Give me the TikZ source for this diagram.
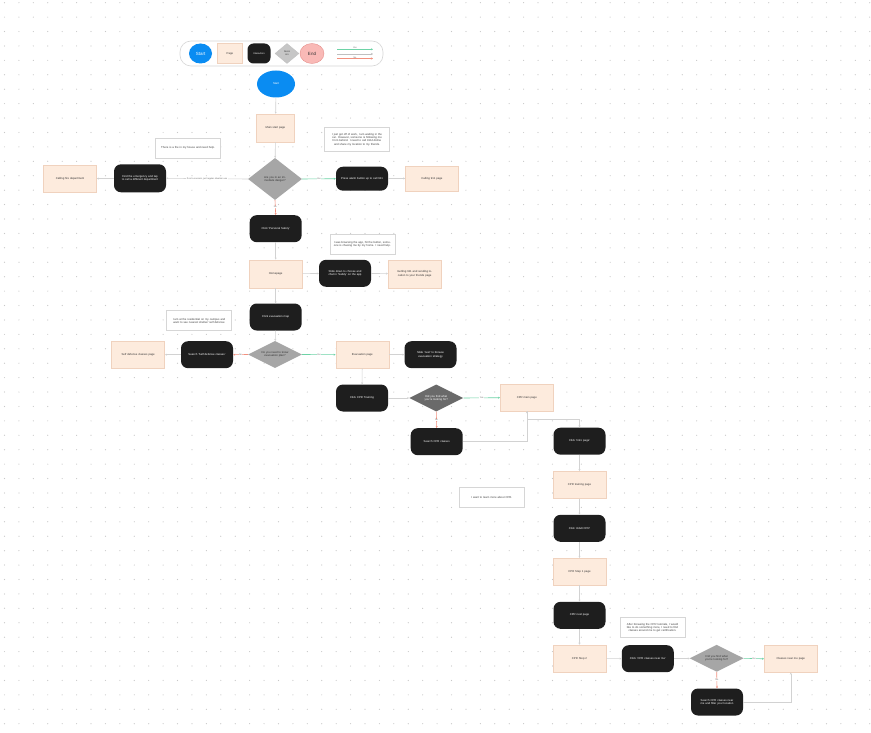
\documentclass[tikz,border=0pt]{standalone}
\usepackage{fontspec}
\setmainfont{Liberation Sans}
\usetikzlibrary{shapes.geometric,arrows.meta}
\definecolor{pagef}{HTML}{FDEBDD}
\definecolor{pageb}{HTML}{F0D2BE}
\definecolor{blk}{HTML}{1E1E1E}
\definecolor{dgray}{HTML}{A6A6A6}
\definecolor{dkgray}{HTML}{6A6A6A}
\definecolor{lgray}{HTML}{C6C6C6}
\definecolor{lnc}{HTML}{D2D2D2}
\definecolor{gln}{HTML}{6DD3A6}
\definecolor{rln}{HTML}{F2907E}
\definecolor{dotc}{HTML}{C8C8C8}
\definecolor{startc}{HTML}{0A8CF2}
\definecolor{endc}{HTML}{F9B9B6}
\definecolor{endb}{HTML}{E58E8A}
\definecolor{noteb}{HTML}{D6D6D6}
\begin{document}
\begin{tikzpicture}[x=1pt,y=-1pt,
 every node/.style={font=\fontsize{2.8}{3.4}\selectfont, align=center, inner sep=1pt},
 pagebox/.style={draw=pageb, fill=pagef, line width=0.5pt, minimum width=53pt, minimum height=27pt, text width=44pt, text=black!80},
 actbox/.style={fill=blk, rounded corners=7pt, minimum width=52pt, minimum height=27pt, text width=44pt, text=white},
 notebox/.style={draw=noteb, fill=white, line width=0.5pt, minimum width=65pt, minimum height=20pt, text width=58pt, text=black!75},
 decbox/.style={diamond, fill=dgray, minimum width=54pt, minimum height=27pt, text width=30pt, inner sep=0pt, shape aspect=2, text=black!80},
 conn/.style={draw=lnc, line width=0.6pt, -{Stealth[length=2pt,width=2pt]}},
 yesc/.style={conn, draw=gln},
 noc/.style={conn, draw=rln},
 elab/.style={font=\fontsize{2.2}{2.6}\selectfont, text=black!60, fill=white, inner sep=0.5pt},
]
\useasboundingbox (0,0) rectangle (871,733);
\fill[white] (0,0) rectangle (871,733);
\foreach \i in {0,...,60} {\foreach \j in {0,...,51} {\fill[dotc] ({4.5+14.42*\i},{2.7+14.42*\j}) circle (0.6pt);}}

% legend
\node[draw=noteb, line width=0.6pt, fill=white, rounded corners=11pt, minimum width=203pt, minimum height=25pt] (legend) at (281.5,53.5) {};
\node[ellipse, fill=startc, minimum width=23pt, minimum height=20pt, text=white, font=\fontsize{4.5}{5}\selectfont] (lstart) at (200.5,53.5) {Start};
\node[pagebox, minimum width=25pt, minimum height=20pt, text width=20pt] (lpage) at (230,53.5) {Page};
\node[actbox, minimum width=23pt, minimum height=20pt, text width=20pt, rounded corners=6pt, font=\fontsize{2.4}{3}\selectfont] (lint) at (259,53.5) {Interaction};
\node[decbox, fill=lgray, draw=black!25, line width=0.3pt, minimum width=24pt, minimum height=20pt, text width=8pt, shape aspect=1, font=\fontsize{2.4}{3}\selectfont] (ldec) at (287,53.5) {Decis ion};
\node[ellipse, fill=endc, draw=endb, line width=0.4pt, minimum width=24pt, minimum height=20pt, font=\fontsize{4.5}{5}\selectfont, text=black!80] (lend) at (312,53.5) {End};
\coordinate (lg1a) at (337,49.3); \coordinate (lg1b) at (373,49.3);
\coordinate (lg2a) at (337,54); \coordinate (lg2b) at (373,54);
\coordinate (lg3a) at (337,58.5); \coordinate (lg3b) at (373,58.5);
\draw[yesc] (lg1a) -- node[elab, fill=none, above=-0.5pt]{Yes} (lg1b);
\draw[conn, draw=black!25] (lg2a) -- (lg2b);
\draw[noc] (lg3a) -- node[elab, fill=none, above=-0.5pt]{No} (lg3b);

% main flow
\node[ellipse, fill=startc, minimum width=38pt, minimum height=27pt, text=white] (start) at (276,84) {Start};
\node[pagebox, minimum width=38pt, minimum height=28pt, text width=32pt] (main) at (275.5,128) {Main start page};
\node[notebox, minimum height=24pt] (n1) at (357,139.5) {I just got off of work, I am waiting in the car. However, someone is following me from behind. I need to call 911/Lifeline and share my location to my friends.};
\node[decbox, minimum height=42pt] (d1) at (275,179) {Are you in an immediate danger?};
\node[actbox, minimum height=24pt] (alarm) at (362,178.7) {Press alarm button up to call 911};
\node[pagebox, minimum height=25pt] (call911) at (432,178.3) {Calling 911 page};
\node[notebox] (n2) at (188,148) {There is a fire in my house and need help.};
\node[actbox, minimum height=28pt] (find) at (140,178.3) {Find the emergency and tap to call a different department};
\node[pagebox] (fire) at (70,178.7) {Calling fire department};

\node[actbox] (safety) at (275.7,228.7) {Click `Personal Safety'};
\node[notebox] (n3) at (362.3,244.3) {I was browsing the app, hit the button, someone is chasing me by my home. I need help.};
\node[pagebox, minimum height=28pt] (home) at (275.7,273.8) {Homepage};
\node[actbox] (slide) at (345,273.3) {Slide down to choose and chat in `Safety' on the app};
\node[pagebox, minimum height=28pt] (get911) at (414.7,273.8) {Getting 911 and sending location to your friends page};

\node[actbox] (evmap) at (275.7,317) {Click evacuation map};
\node[notebox] (n4) at (199,320.7) {I am at the residential on my campus and want to see nearest shelter/ self defense};
\node[decbox] (d2) at (275,354.5) {Do you need to know evacuation plan?};
\node[actbox] (sself) at (207,354.7) {Search `Self defense classes'};
\node[pagebox] (selfpg) at (138.2,354.7) {Self defense classes page};
\node[pagebox] (evpg) at (362.3,354.7) {Evacuation page};
\node[actbox] (snext) at (430.5,354.7) {Slide `next' to browse evacuation strategy};

\node[actbox] (cprt) at (362,398) {Click CPR Training};
\node[decbox, fill=dkgray, text=white] (d3) at (436.3,398) {Did you find what you're looking for?};
\node[pagebox] (cprmain) at (526.8,397.7) {CPR main page};
\node[actbox] (scpr) at (436.7,441.7) {Search CPR classes};
\node[actbox] (intro) at (579.5,441.2) {Click `Intro page'};
\node[notebox] (n5) at (491.8,497.5) {I want to learn more about CPR.};
\node[pagebox] (cprtrain) at (579.5,484.8) {CPR training page};
\node[actbox] (adult) at (579.5,528.3) {Click `Adult CPR'};
\node[pagebox] (step1) at (579.5,571.7) {CPR Step 1 page};
\node[actbox] (nextpg) at (579.5,615.3) {CPR next page};
\node[pagebox] (step2) at (579.5,658.5) {CPR Step 2};
\node[notebox] (n6) at (652.5,627.7) {After browsing the CPR tutorials, I would like to do something more, I need to find classes around me to get certification.};
\node[actbox] (near) at (647.8,658.7) {Click `CPR classes near me'};
\node[decbox] (d4) at (716.7,658.3) {Did you find what you're looking for?};
\node[actbox] (snear) at (717,702) {Search CPR classes near me and filter your location};
\node[pagebox] (classes) at (790.8,658.8) {Classes near me page};

% connectors
\draw[conn] (start) -- (main);
\draw[conn] (main) -- (d1);
\draw[yesc] (d1.east) -- node[elab]{Yes} (alarm.west);
\draw[conn] (alarm) -- (call911);
\draw[conn] (d1.west) -- node[elab]{If not a concern, just regular situation use} (find.east);
\draw[conn] (find) -- (fire);
\draw[noc] (d1.south) -- node[elab, pos=0.45]{No} (safety.north);
\draw[conn] (safety) -- (home);
\draw[conn] (home) -- (slide);
\draw[conn] (slide) -- (get911);
\draw[conn] (home) -- (evmap);
\draw[conn] (evmap) -- (d2);
\draw[noc] (d2.west) -- node[elab]{No} (sself.east);
\draw[conn] (sself) -- (selfpg);
\draw[yesc] (d2.east) -- node[elab]{Yes} (evpg.west);
\draw[conn] (evpg) -- (snext);
\draw[conn] (evpg) -- (cprt);
\draw[conn] (cprt) -- (d3);
\draw[yesc] (d3.east) -- node[elab]{Yes} (cprmain.west);
\draw[noc] (d3.south) -- node[elab]{No} (scpr.north);
\coordinate (j1) at (526.8,441.7);
\coordinate (j2) at (526.8,419);
\draw[conn] (scpr.east) -- (j1) -- (cprmain.south);
\draw[conn] (cprmain.south) -- (j2) -| (intro.north);
\draw[conn] (intro) -- (cprtrain);
\draw[conn] (cprtrain) -- (adult);
\draw[conn] (adult) -- (step1);
\draw[conn] (step1) -- (nextpg);
\draw[conn] (nextpg) -- (step2);
\draw[conn] (step2) -- (near);
\draw[conn] (near) -- (d4);
\draw[yesc] (d4.east) -- node[elab]{Yes} (classes.west);
\draw[noc] (d4.south) -- node[elab]{No} (snear.north);
\coordinate (j3) at (790.8,702);
\draw[conn] (snear.east) -- (j3) -- (classes.south);
\end{tikzpicture}
\end{document}
